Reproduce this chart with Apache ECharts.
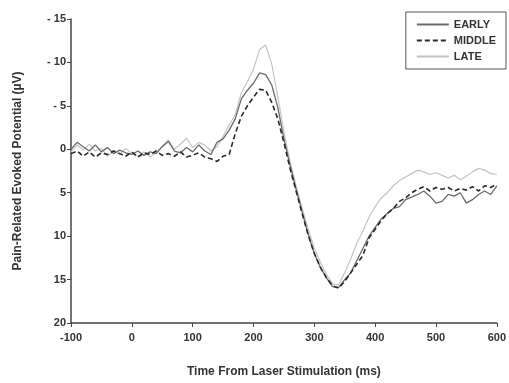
<!DOCTYPE html>
<html lang="en">
<head>
    <meta charset="UTF-8">
    <title>Pain-Related Evoked Potential</title>
    <style>
        body { margin: 0; background: #fff; }
        #chart { width: 509px; height: 383px; }
    </style>
</head>
<body>
<div id="chart"></div>
<script src="https://cdn.jsdelivr.net/npm/echarts@6/dist/echarts.min.js"></script>
<script>
    // time points, ms
    const times = [];
    for (let t = -100; t <= 600; t += 10) times.push(t);

    // values (µV, positive = down)
    const early = [
        0.0, -0.8, -0.3, 0.2, -0.5, 0.3, -0.2, 0.5, 0.1, 0.4,
        0.6, 0.2, 0.7, 0.3, 0.5, -0.3, -0.9, 0.2, 0.4, -0.2,
        0.3, -0.5, 0.2, 0.6, -0.8, -1.2, -2.2, -3.5, -5.8, -6.8,
        -7.6, -8.8, -8.6, -7.4, -4.8, -1.2, 1.8, 4.6, 7.2, 9.8,
        12.0, 13.6, 14.8, 15.8, 15.9, 15.0, 14.2, 12.8, 11.4, 10.0,
        9.0, 8.0, 7.4, 6.8, 6.6, 5.8, 5.5, 5.2, 4.8, 5.4,
        6.2, 6.0, 5.2, 5.4, 5.0, 6.2, 5.8, 5.2, 4.8, 5.2, 4.2
    ];
    const middle = [
        0.5, 0.2, 0.8, 0.3, 0.9, 0.4, 0.6, 0.2, 0.5, 0.8,
        0.3, 0.9, 0.4, 0.6, 0.2, 0.7, 0.5, 0.8, 0.3, 0.9,
        0.7, 0.4, 0.9, 1.1, 1.4, 0.8, 0.6, -1.8, -3.8, -5.0,
        -6.0, -6.9, -6.8, -5.4, -3.5, -0.8, 2.2, 4.8, 7.4, 9.9,
        12.0, 13.6, 14.8, 15.7, 16.0, 15.2, 14.2, 13.2, 12.2, 10.2,
        9.2, 8.2, 7.4, 6.8, 6.0, 5.6, 5.0, 4.6, 4.3, 4.8,
        4.4, 4.6, 4.4, 4.8, 4.5, 4.7, 4.3, 4.8, 4.2, 4.4, 4.0
    ];
    const late = [
        0.3, -0.5, 0.1, -0.6, 0.2, -0.1, 0.8, 0.2, 0.6, -0.1,
        0.5, 0.8, 0.3, 0.9, 0.4, -0.4, -1.1, 0.0, -0.6, -1.3,
        -0.2, -0.8, -0.5, 0.2, -0.3, -1.5, -2.8, -4.0, -6.5, -7.8,
        -9.2, -11.5, -12.0, -9.8, -6.0, -2.0, 1.4, 4.2, 6.8, 9.2,
        11.4, 13.0, 14.4, 15.5, 15.6, 14.2, 12.6, 10.8, 9.4, 7.8,
        6.6, 5.6, 5.0, 4.2, 3.6, 3.2, 2.8, 2.4, 2.6, 2.9,
        2.7, 3.0, 3.3, 3.0, 3.5, 3.1, 2.6, 2.2, 2.4, 2.8, 2.9
    ];

    const seriesNames = ['EARLY', 'MIDDLE', 'LATE'];

    const pair = arr => times.map((t, i) => [t, arr[i]]);
    const font = 'Arial, "Liberation Sans", sans-serif';

    const chart = echarts.init(document.getElementById('chart'));
    chart.setOption({
        animation: false,
        backgroundColor: '#fff',
        grid: { left: 71, right: 12, top: 19, bottom: 57 },
        legend: {
            right: 3, top: 12,
            orient: 'vertical',
            data: seriesNames,
            itemWidth: 32, itemHeight: 10, itemGap: 5,
            padding: [7, 10, 7, 10],
            borderColor: '#555', borderWidth: 1,
            itemStyle: { opacity: 0 },
            textStyle: { fontFamily: font, fontWeight: 'bold', fontSize: 11, color: '#333' }
        },
        xAxis: {
            type: 'value',
            min: -100, max: 600, interval: 100,
            name: 'Time From Laser Stimulation (ms)',
            nameLocation: 'middle', nameGap: 43,
            nameTextStyle: { fontFamily: font, fontWeight: 'bold', fontSize: 12, color: '#333' },
            axisLine: { onZero: false, lineStyle: { color: '#444', width: 1.5 } },
            axisTick: { length: 4, lineStyle: { color: '#444' } },
            axisLabel: { fontFamily: font, fontWeight: 'bold', fontSize: 11, color: '#333', margin: 9 },
            splitLine: { show: false }
        },
        yAxis: {
            type: 'value',
            inverse: true,
            min: -15, max: 20, interval: 5,
            name: 'Pain-Related Evoked Potential (\u00b5V)',
            nameLocation: 'middle', nameGap: 47,
            nameTextStyle: { fontFamily: font, fontWeight: 'bold', fontSize: 12, color: '#333' },
            axisLine: { show: true, onZero: false, lineStyle: { color: '#444', width: 1.5 } },
            axisTick: { show: true, length: 4, lineStyle: { color: '#444' } },
            axisLabel: {
                fontFamily: font, fontWeight: 'bold', fontSize: 11, color: '#333', margin: 5,
                formatter: v => v < 0 ? '- ' + (-v) : String(v)
            },
            splitLine: { show: false }
        },
        series: [
            {
                name: 'EARLY', type: 'line', data: pair(early),
                showSymbol: false, symbol: 'none',
                lineStyle: { color: '#6a6a6a', width: 1.3 },
                itemStyle: { color: '#6a6a6a' },
                z: 3
            },
            {
                name: 'MIDDLE', type: 'line', data: pair(middle),
                showSymbol: false, symbol: 'none',
                lineStyle: { color: '#2a2a2a', width: 1.6, type: [5, 3] },
                itemStyle: { color: '#2a2a2a' },
                z: 4
            },
            {
                name: 'LATE', type: 'line', data: pair(late),
                showSymbol: false, symbol: 'none',
                lineStyle: { color: '#c4c4c4', width: 1.2 },
                itemStyle: { color: '#c4c4c4' },
                z: 2
            }
        ]
    });
</script>
</body>
</html>
